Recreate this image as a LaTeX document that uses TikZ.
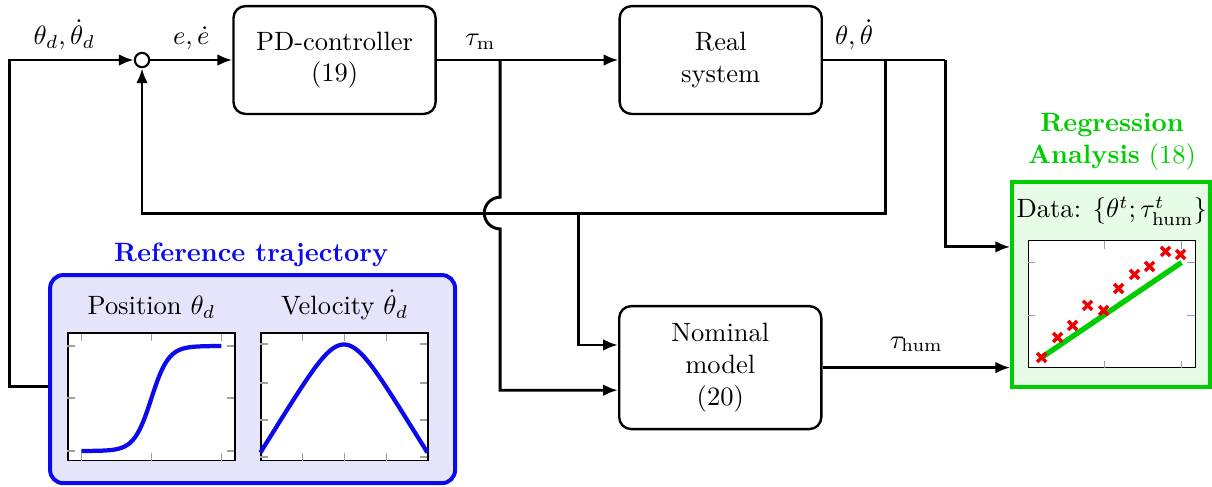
\documentclass[tikz,border=0pt]{standalone}
\usepackage{amsmath}
\usetikzlibrary{positioning,arrows.meta,calc}
\definecolor{trajBlue}{RGB}{10,10,235}
\definecolor{trajFill}{RGB}{228,228,250}
\definecolor{regGreen}{RGB}{0,205,0}
\definecolor{regFill}{RGB}{230,252,230}
\definecolor{dataRed}{RGB}{240,0,0}
\definecolor{tickGray}{RGB}{160,160,160}

\begin{document}
\begin{tikzpicture}[
    >={Latex[length=5.6pt,width=4.4pt]},
    block/.style={draw, line width=0.9pt, rounded corners=4.5pt, align=center, minimum width=2.68cm},
    sig/.style={line width=1.1pt},
    plotframe/.style={draw, line width=0.5pt, fill=white, minimum width=2.215cm, minimum height=1.69cm, inner sep=0pt},
    tickmark/.style={tickGray, line width=0.5pt}
  ]
  \useasboundingbox (0,0) rectangle (16.07,6.446);

  % Control loop blocks
  \node[block, minimum height=1.43cm] (pd) at (4.436,5.65) {PD-controller\\(19)};
  \node[block, minimum height=1.43cm] (real) at (9.556,5.65) {Real\\system};
  \node[block, minimum height=1.63cm] (nom) at (9.55,1.572) {Nominal\\model\\(20)};
  \node[draw, circle, line width=0.8pt, minimum size=0.19cm, inner sep=0pt] (sum) at (1.883,5.65) {};

  % Reference trajectory panel
  \node[draw=trajBlue, fill=trajFill, line width=1.5pt, rounded corners=5pt,
        minimum width=5.37cm, minimum height=2.76cm] (traj) at (3.349,1.419) {};
  \node[trajBlue, font=\bfseries] (trajtitle) at (3.33,3.06) {Reference trajectory};
  \node[plotframe] (posplot) at (2.009,1.187) {};
  \node[plotframe] (velplot) at (4.569,1.187) {};
  \node[anchor=base] (poslbl) at ([yshift=0.23cm]posplot.north) {Position $\theta_d$};
  \node[anchor=base] (vellbl) at ([yshift=0.23cm]velplot.north) {Velocity $\dot{\theta}_d$};

  \begin{scope}[shift={(posplot.south west)}]
    \foreach \x in {0.186,1.114,2.042}
      \draw[tickmark] (\x,0) -- ++(0,0.1) (\x,1.69) -- ++(0,-0.1);
    \foreach \y in {0.133,0.836,1.525}
      \draw[tickmark] (0,\y) -- ++(0.1,0) (2.215,\y) -- ++(-0.1,0);
    \draw[trajBlue, line width=1.6pt, domain=0.186:2.042, samples=80]
      plot ({\x},{0.133+1.392/(1+exp(-8.75*(\x-1.114)))});
  \end{scope}

  \begin{scope}[shift={(velplot.south west)}]
    \foreach \x in {0.557,1.114,1.671}
      \draw[tickmark] (\x,0) -- ++(0,0.1) (\x,1.69) -- ++(0,-0.1);
    \foreach \y in {0.053,0.544,1.034,1.552}
      \draw[tickmark] (0,\y) -- ++(0.1,0) (2.215,\y) -- ++(-0.1,0);
    \draw[trajBlue, line width=1.6pt, domain=0:2.215, samples=80]
      plot ({\x},{1.545-0.5106*ln(cosh(3.5*(\x-1.1075)/1.1075))});
  \end{scope}

  % Regression analysis panel
  \node[draw=regGreen, fill=regFill, line width=1.5pt, minimum width=2.626cm, minimum height=2.719cm] (reg) at (14.735,2.672) {};
  \node[regGreen, align=center] (regtitle) at (14.745,4.57) {\textbf{Regression}\\\textbf{Analysis} (18)};
  \node[plotframe] (regplot) at (14.741,2.414) {};
  \node[anchor=base] (datalbl) at ([yshift=0.29cm]regplot.north) {Data: $\{\theta^t;\tau^t_{\mathrm{hum}}\}$};

  \begin{scope}[shift={(regplot.south west)}]
    \foreach \x in {1.021,2.042}
      \draw[tickmark] (\x,0) -- ++(0,0.1) (\x,1.69) -- ++(0,-0.1);
    \foreach \y in {0.703,1.406}
      \draw[tickmark] (0,\y) -- ++(0.1,0) (2.215,\y) -- ++(-0.1,0);
    \draw[regGreen, line width=2pt] (0.186,0.146) -- (2.042,1.406);
    \foreach \px/\py in {0.186/0.146, 0.398/0.411, 0.597/0.570, 0.796/0.836, 1.008/0.769,
                         1.207/1.061, 1.419/1.247, 1.618/1.353, 1.830/1.552, 2.029/1.512}
      \draw[dataRed, line width=1.3pt] (\px-0.06,\py-0.06) -- ++(0.12,0.12)
                                        (\px-0.06,\py+0.06) -- ++(0.12,-0.12);
  \end{scope}

  % Branch points
  \coordinate (tmsplit) at (6.631,5.65);
  \coordinate (outsplit) at (11.737,5.65);
  \coordinate (outturn) at (12.533,5.65);
  \coordinate (fbturn) at (11.737,3.621);
  \coordinate (nomsplit) at (7.666,3.621);

  % Forward path
  \draw[sig,->] ([yshift=-0.1cm]traj.west) -- ++(-0.51,0) |- (sum.west)
    node[pos=0.72, above] {$\theta_d,\dot{\theta}_d$};
  \draw[sig,->] (sum.east) -- node[above] {$e,\dot{e}$} (pd.west);
  \draw[sig,->] (pd.east) -- node[pos=0.24, above] {$\tau_{\mathrm{m}}$} (real.west);
  \draw[sig] (real.east) -- node[above] {$\theta,\dot{\theta}$} (outsplit) -- (outturn);
  \draw[sig,->] (outturn) |- ([yshift=0.5cm]reg.west);

  % Feedback and model inputs
  \draw[sig,->] (outsplit) -- (fbturn) -| (sum.south);
  \draw[sig,->] (tmsplit) -- ($(tmsplit |- fbturn)+(0,0.21)$)
    arc[start angle=90, end angle=270, radius=0.21] |- ([yshift=-0.3cm]nom.west);
  \draw[sig,->] (nomsplit) |- ([yshift=0.3cm]nom.west);
  \draw[sig,->] (nom.east) -- node[above=2pt] {$\tau_{\mathrm{hum}}$} (nom.east -| reg.west);
\end{tikzpicture}
\end{document}
